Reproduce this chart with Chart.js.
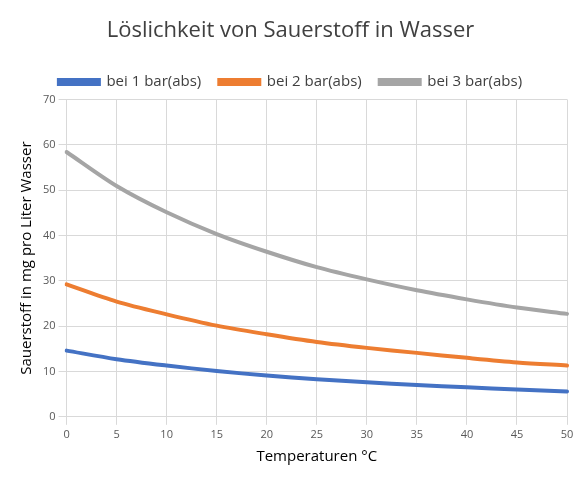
<!DOCTYPE html>
<html><head><meta charset="utf-8">
<script src="https://cdn.jsdelivr.net/npm/chart.js@4"></script>
<style>html,body{margin:0;padding:0;background:#fff}#w{width:585px;height:484px}</style>
</head><body><div id="w"><canvas id="c"></canvas></div>
<script>
const temperatures = ['0','5','10','15','20','25','30','35','40','45','50'];
const bar1 = [14.6,12.7,11.3,10.1,9.1,8.3,7.6,7.0,6.5,6.0,5.6];
const bar2 = [29.2,25.4,22.6,20.1,18.2,16.5,15.2,14.1,13.0,12.0,11.3];
const bar3 = [58.4,50.9,45.1,40.3,36.4,33.0,30.3,27.9,25.9,24.1,22.7];
const F = 'Open Sans';
new Chart(document.getElementById('c'), {
  type: 'line',
  data: { labels: temperatures, datasets: [
    {label:'bei 1 bar(abs)', data:bar1, borderColor:'#4472C4', backgroundColor:'#4472C4'},
    {label:'bei 2 bar(abs)', data:bar2, borderColor:'#ED7D31', backgroundColor:'#ED7D31'},
    {label:'bei 3 bar(abs)', data:bar3, borderColor:'#A5A5A5', backgroundColor:'#A5A5A5'}
  ]},
  options: {
    responsive:true, maintainAspectRatio:false, animation:false,
    layout:{padding:{left:14,right:18,top:4,bottom:14}},
    elements:{point:{radius:0}, line:{borderWidth:4, tension:0.3, borderCapStyle:'round'}},
    plugins:{
      title:{display:true, text:'Löslichkeit von Sauerstoff in Wasser', color:'#404040', font:{family:F,size:22,weight:'normal'}, padding:{top:14,bottom:12}},
      legend:{labels:{color:'#404040', font:{family:F,size:15}, boxWidth:40, boxHeight:4, padding:18}}
    },
    scales:{
      x:{offset:false, title:{display:true,text:'Temperaturen °C',color:'#000',font:{family:F,size:15}},
         ticks:{color:'#595959',font:{family:F,size:11},maxRotation:0},
         grid:{color:'#D9D9D9'}, border:{color:'#D9D9D9'}},
      y:{min:0,max:70, title:{display:true,text:'Sauerstoff in mg pro Liter Wasser',color:'#000',font:{family:F,size:15}},
         ticks:{stepSize:10,color:'#595959',font:{family:F,size:11}},
         grid:{color:'#D9D9D9'}, border:{color:'#D9D9D9'}}
    }
  }
});
</script></body></html>
